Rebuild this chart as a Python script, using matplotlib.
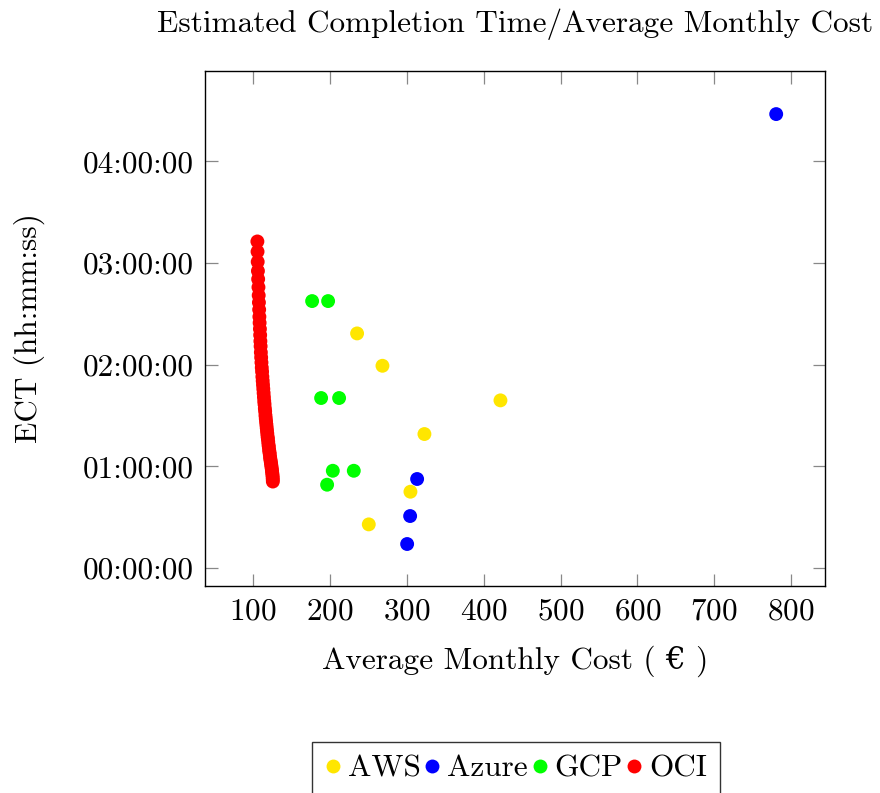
import matplotlib
matplotlib.use("Agg")
import matplotlib.pyplot as plt
from matplotlib.ticker import FuncFormatter, MultipleLocator
from matplotlib.lines import Line2D

plt.rcParams['font.family'] = ['cmr10', 'DejaVu Serif']
plt.rcParams['axes.formatter.use_mathtext'] = True

FS = 22.5

# --- DADOS (custo em EUR, ECT em horas) ---
aws_cost = [235.3, 268.3, 421.8, 322.9, 304.7, 250.5]
aws_ect = [2.306, 1.988, 1.648, 1.317, 0.750, 0.429]

azure_cost = [780.5, 313.4, 304.3, 300.4]
azure_ect = [4.462, 0.875, 0.511, 0.236]

gcp_cost = [176.8, 197.6, 188.5, 211.9, 203.7, 231.0, 196.3]
gcp_ect = [2.624, 2.624, 1.671, 1.671, 0.956, 0.956, 0.819]

oci_cost = [105.6, 105.8, 106.0, 106.3, 106.6, 107.0, 107.3, 107.6, 107.9, 108.2,
            108.5, 108.9, 109.2, 109.5, 109.8, 110.1, 110.5, 110.9, 111.3, 111.7,
            112.1, 112.5, 112.9, 113.3, 113.7, 114.1, 114.5, 114.9, 115.3, 115.7,
            116.1, 116.5, 116.9, 117.3, 117.7, 118.1, 118.5, 118.9, 119.3, 119.7,
            120.1, 120.5, 120.9, 121.3, 121.7, 122.1, 122.5, 122.9, 123.3, 123.7,
            124.0, 124.4, 124.7, 125.0, 125.3, 125.5, 125.6, 125.7]
oci_ect = [3.21, 3.11, 3.01, 2.92, 2.84, 2.76, 2.68, 2.61, 2.54, 2.47,
           2.41, 2.35, 2.29, 2.23, 2.18, 2.12, 2.07, 2.02, 1.97, 1.93,
           1.88, 1.84, 1.80, 1.76, 1.72, 1.68, 1.64, 1.61, 1.57, 1.54,
           1.50, 1.47, 1.44, 1.41, 1.38, 1.35, 1.32, 1.29, 1.27, 1.24,
           1.21, 1.19, 1.16, 1.14, 1.12, 1.09, 1.07, 1.05, 1.03, 1.01,
           0.99, 0.97, 0.95, 0.93, 0.91, 0.89, 0.87, 0.85]

providers = ['AWS', 'Azure', 'GCP', 'OCI']
colors = {'AWS': '#ffe600', 'Azure': '#0000ff', 'GCP': '#00ff00', 'OCI': '#ff0000'}
series = {
    'AWS': (aws_cost, aws_ect),
    'Azure': (azure_cost, azure_ect),
    'GCP': (gcp_cost, gcp_ect),
    'OCI': (oci_cost, oci_ect),
}


def hhmmss(v, pos):
    total = int(round(v * 3600))
    return f"{total // 3600:02d}:{(total % 3600) // 60:02d}:{total % 60:02d}"


fig = plt.figure(figsize=(8.8, 7.93), dpi=100)
ax = fig.add_axes([0.233, 0.261, 0.7045, 0.6494])

for p in providers:
    x, y = series[p]
    ax.scatter(x, y, s=100, color=colors[p], edgecolors='none', zorder=3)

ax.set_xlim(37.5, 844)
ax.set_ylim(-0.177, 4.885)
ax.xaxis.set_major_locator(MultipleLocator(100))
ax.yaxis.set_major_locator(MultipleLocator(1))
ax.yaxis.set_major_formatter(FuncFormatter(hhmmss))

ax.tick_params(direction='in', length=9, width=0.9, color='#888888',
               top=True, right=True, labelsize=FS, pad=8)
for sp in ax.spines.values():
    sp.set_linewidth(1.0)

ax.set_title('Estimated Completion Time/Average Monthly Cost', fontsize=FS, pad=28)
ax.set_xlabel('Average Monthly Cost ( € )', fontsize=FS, labelpad=15)
ax.set_ylabel('ECT (hh:mm:ss)', fontsize=FS, labelpad=27)

handles = [Line2D([], [], marker='o', linestyle='none', markersize=10,
                  markerfacecolor=colors[p], markeredgecolor='none') for p in providers]
leg = fig.legend(handles, providers, loc='upper center', bbox_to_anchor=(0.586, 0.0643),
                 ncol=4, fontsize=FS, frameon=True, fancybox=False, edgecolor='black',
                 handlelength=0.55, handletextpad=0.2, columnspacing=0.1, borderpad=0.4,
                 borderaxespad=0)
leg.get_frame().set_linewidth(1.0)

fig.savefig('out.png', dpi=100)
